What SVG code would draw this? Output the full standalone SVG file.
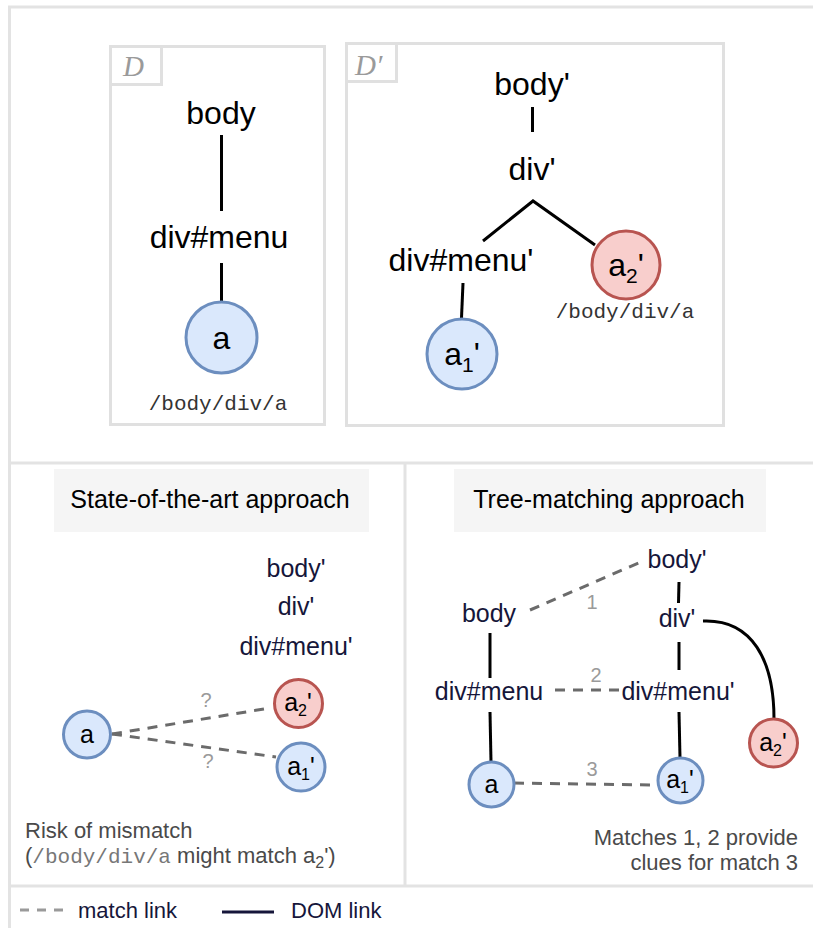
<svg xmlns="http://www.w3.org/2000/svg" width="813" height="928" viewBox="0 0 813 928">
<style>
.frame{fill:none;stroke:#e3e3e3;stroke-width:3}
.box{fill:#fff;stroke:#e0e0e0;stroke-width:3}
.lbl{fill:#fff;stroke:#e0e0e0;stroke-width:3}
.t{font-family:"Liberation Sans",Arial,sans-serif;fill:#000;text-anchor:middle}
.big{font-size:32px}
.mid{font-size:25px}
.nv{fill:#16163a}
.mono{font-family:"Liberation Mono","Courier New",monospace;fill:#333;text-anchor:middle;font-size:21px}
.blue{fill:#dae8fc;stroke:#6c8ebf;stroke-width:3}
.red{fill:#f8cecc;stroke:#b85450;stroke-width:3}
.dom{stroke:#000;stroke-width:3;fill:none}
.match{stroke:#6b6b6b;stroke-width:3;fill:none;stroke-dasharray:10 8}
.num{font-family:"Liberation Sans",Arial,sans-serif;font-size:20px;fill:#9a9a9a;text-anchor:middle}
.title{fill:#f5f5f5}
.note{font-family:"Liberation Sans",Arial,sans-serif;font-size:22px;fill:#4a4a4a}
.it{font-family:"Liberation Serif","Times New Roman",serif;font-style:italic;font-size:29px;fill:#9a9a9a}
</style>
<rect width="813" height="928" fill="#fff"/>
<g id="frame">
<path class="frame" d="M813,7 H9.5 V928"/>
<path class="frame" d="M9.5,463 H813"/>
<path class="frame" d="M9.5,886 H813"/>
<path class="frame" d="M405,463 V886"/>
</g>
<g id="boxD">
<rect class="box" x="110.5" y="46.5" width="214" height="378"/>
<rect class="lbl" x="110.5" y="46.5" width="51" height="38"/>
<text class="it" x="123" y="76">D</text>
</g>
<g id="boxDp">
<rect class="box" x="346.5" y="43.5" width="377" height="382"/>
<rect class="lbl" x="346.5" y="43.5" width="50" height="38"/>
<text class="it" x="355" y="75">D′</text>
</g>
<g id="connectors">
<line class="dom" x1="221.5" y1="135" x2="221.5" y2="211"/>
<line class="dom" x1="221.5" y1="263" x2="221.5" y2="302"/>
<line class="dom" x1="532.5" y1="107" x2="532.5" y2="132"/>
<path class="dom" d="M483,241 L533,201 L595,245"/>
<line class="dom" x1="463" y1="283" x2="461.5" y2="318"/>
<line class="match" x1="112" y1="734" x2="270" y2="708"/>
<line class="match" x1="112" y1="734" x2="276" y2="757"/>
<line class="match" x1="530" y1="610" x2="643" y2="561"/>
<line class="dom" x1="679" y1="582" x2="678.5" y2="603"/>
<path class="dom" d="M703,621 C752,619 774,660 774,719"/>
<line class="dom" x1="679" y1="642" x2="679" y2="670"/>
<line class="dom" x1="490" y1="633" x2="490" y2="678"/>
<line class="match" x1="555" y1="690" x2="621" y2="690"/>
<line class="dom" x1="490" y1="712" x2="491" y2="762"/>
<line class="dom" x1="679" y1="712" x2="680" y2="758"/>
<line class="match" x1="514" y1="783" x2="658" y2="785"/>
</g>
<g id="d-body"><text class="t big" x="221" y="124">body</text></g>
<g id="d-divmenu"><text class="t big" x="219" y="248">div#menu</text></g>
<g id="d-a"><circle class="blue" cx="221.5" cy="337.5" r="35.5"/><text class="t big" x="221.5" y="349">a</text></g>
<g id="d-path"><text class="mono" x="218" y="410">/body/div/a</text></g>
<g id="dp-body"><text class="t big" x="532" y="95">body'</text></g>
<g id="dp-div"><text class="t big" x="532" y="180">div'</text></g>
<g id="dp-divmenu"><text class="t big" x="461" y="271">div#menu'</text></g>
<g id="dp-a1"><circle class="blue" cx="462" cy="354" r="35"/><text class="t big" x="462" y="365">a<tspan font-size="21" dy="7">1</tspan><tspan dy="-7">'</tspan></text></g>
<g id="dp-a2"><circle class="red" cx="626" cy="265" r="34"/><text class="t big" x="626" y="276">a<tspan font-size="21" dy="7">2</tspan><tspan dy="-7">'</tspan></text></g>
<g id="dp-path"><text class="mono" x="625" y="318">/body/div/a</text></g>
<g id="sota-title"><rect class="title" x="54" y="469" width="315" height="63"/><text class="t" x="210" y="508" font-size="25" fill="#333">State-of-the-art approach</text></g>
<g id="s-body"><text class="t mid nv" x="296" y="577">body'</text></g>
<g id="s-div"><text class="t mid nv" x="296" y="615">div'</text></g>
<g id="s-divmenu"><text class="t mid nv" x="296" y="655">div#menu'</text></g>
<g id="s-a"><circle class="blue" cx="87" cy="734.5" r="23.5"/><text class="t mid" x="87" y="743">a</text></g>
<g id="s-a2"><circle class="red" cx="298.5" cy="703.5" r="24"/><text class="t mid" x="298" y="711">a<tspan font-size="16" dy="5">2</tspan><tspan dy="-5">'</tspan></text></g>
<g id="s-a1"><circle class="blue" cx="301" cy="767" r="24"/><text class="t mid" x="301" y="775">a<tspan font-size="16" dy="5">1</tspan><tspan dy="-5">'</tspan></text></g>
<g id="s-q"><text class="num" x="206" y="707">?</text><text class="num" x="208" y="768">?</text></g>
<g id="s-note"><text class="note" x="25" y="838">Risk of mismatch</text><text class="note" x="25" y="863">(<tspan font-family="'Liberation Mono','Courier New',monospace" font-size="21" fill="#777">/body/div/a</tspan> might match a<tspan font-size="16" dy="5">2</tspan><tspan dy="-5">')</tspan></text></g>
<g id="tm-title"><rect class="title" x="454" y="469" width="312" height="63"/><text class="t" x="609" y="508" font-size="25" fill="#333">Tree-matching approach</text></g>
<g id="t-bodyp"><text class="t mid nv" x="677" y="568">body'</text></g>
<g id="t-body"><text class="t mid nv" x="489" y="622">body</text></g>
<g id="t-div"><text class="t mid nv" x="677" y="627">div'</text></g>
<g id="t-divmenu"><text class="t mid nv" x="489" y="700">div#menu</text></g>
<g id="t-divmenup"><text class="t mid nv" x="678" y="700">div#menu'</text></g>
<g id="t-a"><circle class="blue" cx="491.5" cy="784.5" r="22.5"/><text class="t mid" x="491.5" y="793">a</text></g>
<g id="t-a1"><circle class="blue" cx="680.5" cy="780.5" r="22.5"/><text class="t mid" x="680" y="788">a<tspan font-size="16" dy="5">1</tspan><tspan dy="-5">'</tspan></text></g>
<g id="t-a2"><circle class="red" cx="773.5" cy="743" r="24"/><text class="t mid" x="773" y="751">a<tspan font-size="16" dy="5">2</tspan><tspan dy="-5">'</tspan></text></g>
<g id="t-nums"><text class="num" x="592" y="609">1</text><text class="num" x="596" y="682">2</text><text class="num" x="592" y="776">3</text></g>
<g id="t-note"><text class="note" x="798" y="845" text-anchor="end">Matches 1, 2 provide</text><text class="note" x="798" y="870" text-anchor="end">clues for match 3</text></g>
<g id="legend">
<line x1="20" y1="910" x2="67" y2="910" stroke="#9a9a9a" stroke-width="3" stroke-dasharray="9 8"/>
<text x="78" y="918" font-family="'Liberation Sans',Arial,sans-serif" font-size="22" fill="#16163a">match link</text>
<line x1="222" y1="912" x2="274" y2="912" stroke="#16163a" stroke-width="3"/>
<text x="291" y="918" font-family="'Liberation Sans',Arial,sans-serif" font-size="22" fill="#16163a">DOM link</text>
</g>
</svg>
